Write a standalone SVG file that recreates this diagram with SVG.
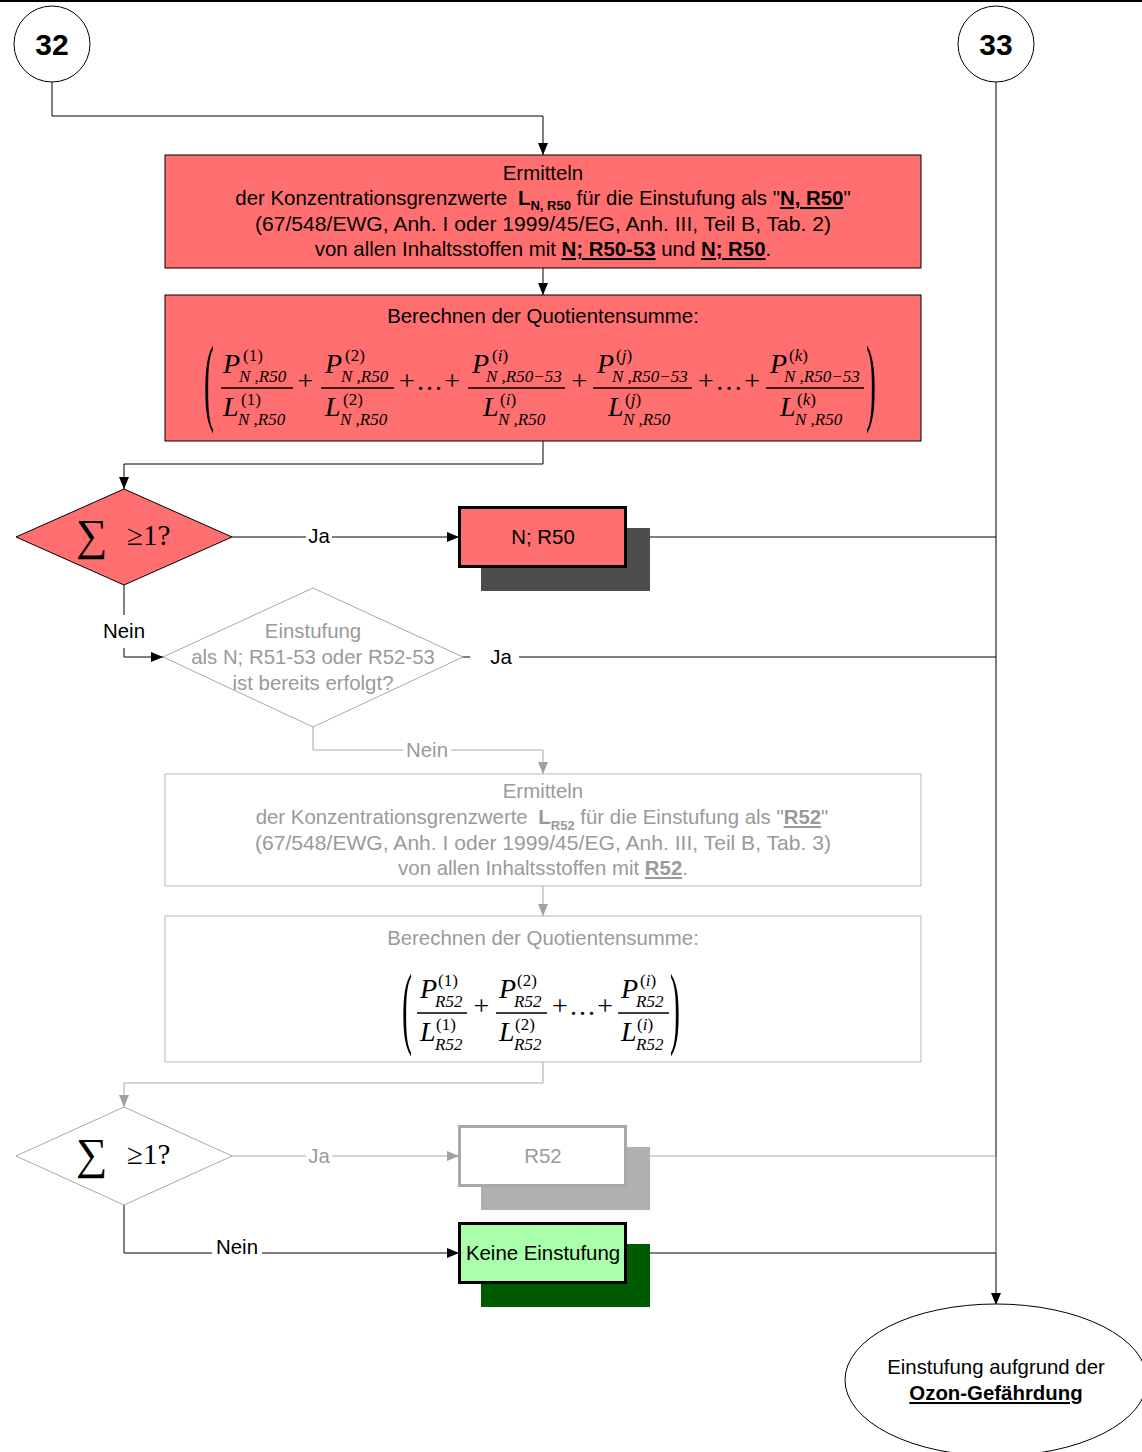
<svg xmlns="http://www.w3.org/2000/svg" width="1142" height="1452" viewBox="0 0 1142 1452">
<style>
.t{font-family:"Liberation Sans",Arial,sans-serif;font-size:20.4px;text-anchor:middle;fill:#000}
.g{fill:#9a9a9a}
.b{font-weight:bold}
.u{text-decoration:underline}
.m{font-family:"Liberation Serif","Times New Roman",serif;font-size:28px;font-style:italic;fill:#000}
.mu{font-style:normal}
.s{font-family:"Liberation Serif","Times New Roman",serif;font-size:17px;font-style:normal;fill:#000}
.si{font-style:italic}
.bar{stroke:#000;stroke-width:1.3}
.op{font-family:"Liberation Serif","Times New Roman",serif;font-size:28px;text-anchor:middle;fill:#000}
.par{font-family:"Liberation Serif","Times New Roman",serif;font-size:30px;fill:#000}
.sig{font-family:"Liberation Serif","Times New Roman",serif;font-size:44px;fill:#000}
.ge{font-family:"Liberation Serif","Times New Roman",serif;font-size:29px;fill:#000}
.cb{fill:none;stroke:#000;stroke-width:1}
.cg{fill:none;stroke:#a8a8a8;stroke-width:1}
.lbl{fill:#fff;stroke:none}
</style>
<defs>
<marker id="ab" markerUnits="userSpaceOnUse" markerWidth="12" markerHeight="10" refX="12" refY="5" orient="auto"><path d="M0,0 L12,5 L0,10 z" fill="#000"/></marker>
<marker id="ag" markerUnits="userSpaceOnUse" markerWidth="12" markerHeight="10" refX="12" refY="5" orient="auto"><path d="M0,0 L12,5 L0,10 z" fill="#a0a0a0"/></marker>
</defs>
<rect width="1142" height="1452" fill="#fff"/>
<line x1="0" y1="1" x2="1142" y2="1" stroke="#000" stroke-width="2"/>

<g id="connectors">
<path class="cb" d="M52,82 V116 H543 V155" marker-end="url(#ab)"/>
<path class="cb" d="M543,268 V295" marker-end="url(#ab)"/>
<path class="cb" d="M543,441 V464 H124 V489" marker-end="url(#ab)"/>
<path class="cb" d="M232,537 H459" stroke="#333" marker-end="url(#ab)"/>
<rect class="lbl" x="306" y="526" width="26" height="22"/>
<text class="t" x="319" y="543">Ja</text>
<path class="cb" d="M626,537 H996"/>
<path class="cb" d="M124,585 V657 H163" marker-end="url(#ab)"/>
<rect class="lbl" x="100" y="615" width="48" height="33"/>
<text class="t" x="124" y="638">Nein</text>
<path class="cb" d="M463,657 H996"/>
<rect class="lbl" x="470" y="645" width="49" height="24"/>
<text class="t" x="501" y="664">Ja</text>
<path class="cg" d="M313,727 V750 H543 V774" marker-end="url(#ag)"/>
<rect class="lbl" x="403" y="739" width="48" height="22"/>
<text class="t g" x="427" y="757">Nein</text>
<path class="cg" d="M543,886 V916" marker-end="url(#ag)"/>
<path class="cg" d="M543,1062 V1083 H124 V1107" marker-end="url(#ag)"/>
<path class="cg" d="M232,1156 H459" marker-end="url(#ag)"/>
<rect class="lbl" x="306" y="1145" width="26" height="22"/>
<text class="t g" x="319" y="1163">Ja</text>
<path class="cg" d="M626,1156 H996"/>
<path class="cb" d="M124,1205 V1253 H459" marker-end="url(#ab)"/>
<rect class="lbl" x="212" y="1236" width="50" height="20"/>
<text class="t" x="237" y="1254">Nein</text>
<path class="cb" d="M626,1253 H996"/>
<path class="cb" d="M996,82 V1305" marker-end="url(#ab)"/>
<path class="cg" d="M996,1156 V1253" stroke="#909090"/>
</g>

<g id="c32">
<circle cx="52" cy="44" r="38" fill="#fff" stroke="#000" stroke-width="1"/>
<text class="t b" x="52" y="55" style="font-size:30px">32</text>
</g>
<g id="c33">
<circle cx="996" cy="44" r="38" fill="#fff" stroke="#000" stroke-width="1"/>
<text class="t b" x="996" y="55" style="font-size:30px">33</text>
</g>

<g id="box1">
<rect x="165" y="155" width="756" height="113" fill="#ff6f6f" stroke="#000" stroke-width="1"/>
<text class="t" x="543" y="180">Ermitteln</text>
<text class="t" x="543" y="205">der Konzentrationsgrenzwerte <tspan class="b" dx="5">L</tspan><tspan class="b" style="font-size:13px" dy="5">N, R50</tspan><tspan dy="-5"> für die Einstufung als "</tspan><tspan class="b u">N, R50</tspan>"</text>
<text class="t" x="543" y="231" textLength="576" lengthAdjust="spacingAndGlyphs">(67/548/EWG, Anh. I oder 1999/45/EG, Anh. III, Teil B, Tab. 2)</text>
<text class="t" x="543" y="256">von allen Inhaltsstoffen mit <tspan class="b u">N; R50-53</tspan> und <tspan class="b u">N; R50</tspan>.</text>
</g>

<g id="box2">
<rect x="165" y="295" width="756" height="146" fill="#ff6f6f" stroke="#000" stroke-width="1"/>
<text class="t" x="543" y="323">Berechnen der Quotientensumme:</text>
<text class="par" transform="translate(204,413) scale(1,3.27)">(</text>
<text class="par" transform="translate(866,413) scale(1,3.27)">)</text>
<!-- frac1 -->
<text class="m" x="223" y="373">P</text><text class="s" x="243" y="361">(1)</text><text class="s si" x="239" y="382">N ,R50</text>
<line class="bar" x1="221" y1="388" x2="293" y2="388"/>
<text class="m" x="223" y="416">L</text><text class="s" x="241" y="405">(1)</text><text class="s si" x="238" y="425">N ,R50</text>
<text class="op" x="305.5" y="390">+</text>
<!-- frac2 -->
<text class="m" x="325" y="373">P</text><text class="s" x="345" y="361">(2)</text><text class="s si" x="341" y="382">N ,R50</text>
<line class="bar" x1="321" y1="388" x2="394" y2="388"/>
<text class="m" x="325" y="416">L</text><text class="s" x="343" y="405">(2)</text><text class="s si" x="340" y="425">N ,R50</text>
<text class="op" x="399" y="390" textLength="61" lengthAdjust="spacing" style="text-anchor:start">+...+</text>
<!-- frac3 -->
<text class="m" x="472" y="373">P</text><text class="s" x="492" y="361">(<tspan class="si">i</tspan>)</text><text class="s si" x="486" y="382">N ,R50−53</text>
<line class="bar" x1="468" y1="388" x2="565" y2="388"/>
<text class="m" x="483" y="416">L</text><text class="s" x="500" y="405">(<tspan class="si">i</tspan>)</text><text class="s si" x="498" y="425">N ,R50</text>
<text class="op" x="579.5" y="390">+</text>
<!-- frac4 -->
<text class="m" x="597" y="373">P</text><text class="s" x="616" y="361">(<tspan class="si">j</tspan>)</text><text class="s si" x="612" y="382">N ,R50−53</text>
<line class="bar" x1="593" y1="388" x2="692" y2="388"/>
<text class="m" x="608" y="416">L</text><text class="s" x="625" y="405">(<tspan class="si">j</tspan>)</text><text class="s si" x="623" y="425">N ,R50</text>
<text class="op" x="698" y="390" textLength="62" lengthAdjust="spacing" style="text-anchor:start">+...+</text>
<!-- frac5 -->
<text class="m" x="770" y="373">P</text><text class="s" x="789" y="361">(<tspan class="si">k</tspan>)</text><text class="s si" x="784" y="382">N ,R50−53</text>
<line class="bar" x1="766" y1="388" x2="864" y2="388"/>
<text class="m" x="780" y="416">L</text><text class="s" x="797" y="405">(<tspan class="si">k</tspan>)</text><text class="s si" x="795" y="425">N ,R50</text>
</g>

<g id="dec1">
<polygon points="16,537 124,489 232,537 124,585" fill="#ff6f6f" stroke="#000" stroke-width="1"/>
<text class="sig" x="76" y="550">∑</text>
<text class="ge" x="127" y="545">≥1?</text>
</g>

<g id="nr50">
<rect x="481" y="528" width="169" height="63" fill="#4d4d4d"/>
<rect x="459.5" y="507.5" width="166" height="59" fill="#ff6f6f" stroke="#000" stroke-width="3"/>
<text class="t" x="543" y="544">N; R50</text>
</g>

<g id="dec2">
<polygon points="163,657 313,588 463,657 313,727" fill="#fff" stroke="#a8a8a8" stroke-width="1"/>
<text class="t g" x="313" y="638">Einstufung</text>
<text class="t g" x="313" y="664">als N; R51-53 oder R52-53</text>
<text class="t g" x="313" y="690">ist bereits erfolgt?</text>
</g>

<g id="box3">
<rect x="165" y="774" width="756" height="112" fill="#fff" stroke="#b8b8b8" stroke-width="1"/>
<text class="t g" x="543" y="798">Ermitteln</text>
<text class="t g" x="542" y="824">der Konzentrationsgrenzwerte <tspan class="b" dx="5">L</tspan><tspan class="b" style="font-size:13px" dy="6">R52</tspan><tspan dy="-6"> für die Einstufung als "</tspan><tspan class="b u">R52</tspan>"</text>
<text class="t g" x="543" y="850" textLength="576" lengthAdjust="spacingAndGlyphs">(67/548/EWG, Anh. I oder 1999/45/EG, Anh. III, Teil B, Tab. 3)</text>
<text class="t g" x="543" y="875">von allen Inhaltsstoffen mit <tspan class="b u">R52</tspan>.</text>
</g>

<g id="box4">
<rect x="165" y="916" width="756" height="146" fill="#fff" stroke="#b8b8b8" stroke-width="1"/>
<text class="t g" x="543" y="945">Berechnen der Quotientensumme:</text>
<text class="par" transform="translate(402,1037) scale(1,3.05)">(</text>
<text class="par" transform="translate(670,1037) scale(1,3.05)">)</text>
<text class="m" x="420" y="998">P</text><text class="s" x="438" y="986">(1)</text><text class="s si" x="435" y="1007">R52</text>
<line class="bar" x1="417" y1="1013" x2="467" y2="1013"/>
<text class="m" x="420" y="1041">L</text><text class="s" x="436" y="1030">(1)</text><text class="s si" x="435" y="1050">R52</text>
<text class="op" x="481.5" y="1015">+</text>
<text class="m" x="499" y="998">P</text><text class="s" x="517" y="986">(2)</text><text class="s si" x="514" y="1007">R52</text>
<line class="bar" x1="496" y1="1013" x2="547" y2="1013"/>
<text class="m" x="499" y="1041">L</text><text class="s" x="515" y="1030">(2)</text><text class="s si" x="514" y="1050">R52</text>
<text class="op" x="552" y="1015" textLength="61" lengthAdjust="spacing" style="text-anchor:start">+...+</text>
<text class="m" x="621" y="998">P</text><text class="s" x="640" y="986">(<tspan class="si">i</tspan>)</text><text class="s si" x="636" y="1007">R52</text>
<line class="bar" x1="618" y1="1013" x2="669" y2="1013"/>
<text class="m" x="621" y="1041">L</text><text class="s" x="637" y="1030">(<tspan class="si">i</tspan>)</text><text class="s si" x="636" y="1050">R52</text>
</g>

<g id="dec3">
<polygon points="16,1156 124,1107 232,1156 124,1205" fill="#fff" stroke="#a8a8a8" stroke-width="1"/>
<text class="sig" x="76" y="1169">∑</text>
<text class="ge" x="127" y="1164">≥1?</text>
</g>

<g id="r52">
<rect x="481" y="1147" width="169" height="63" fill="#b0b0b0"/>
<rect x="459.5" y="1126.5" width="166" height="59" fill="#fff" stroke="#a8a8a8" stroke-width="3"/>
<text class="t g" x="543" y="1163">R52</text>
</g>

<g id="keine">
<rect x="481" y="1244" width="169" height="63" fill="#005a00"/>
<rect x="459.5" y="1223.5" width="166" height="59" fill="#aaffaa" stroke="#000" stroke-width="3"/>
<text class="t" x="543" y="1260">Keine Einstufung</text>
</g>

<g id="ozon">
<ellipse cx="996" cy="1380" rx="151" ry="76" fill="#fff" stroke="#000" stroke-width="1"/>
<text class="t" x="996" y="1374">Einstufung aufgrund der</text>
<text class="t b u" x="996" y="1400">Ozon-Gefährdung</text>
</g>
</svg>
